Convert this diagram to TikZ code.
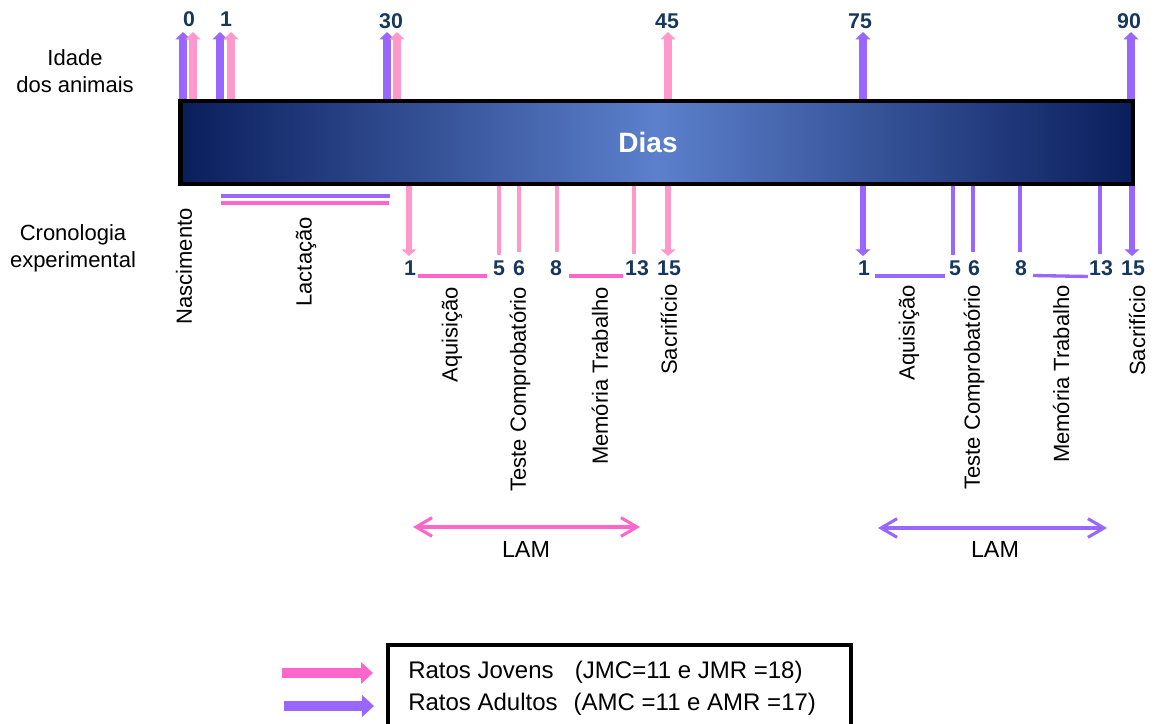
\documentclass[tikz,border=0pt]{standalone}
\usepackage{fontspec}
\setmainfont{Liberation Sans}
\usetikzlibrary{arrows.meta}

\definecolor{adulto}{RGB}{153,102,255}
\definecolor{jovem}{RGB}{255,153,204}
\definecolor{jovemforte}{RGB}{255,102,204}
\definecolor{numazul}{RGB}{23,55,94}
\definecolor{barraescura}{RGB}{10,30,92}
\definecolor{barraclara}{RGB}{92,128,204}

\begin{document}
\begin{tikzpicture}[x=0.75pt,y=0.75pt,yscale=-1,xscale=1,
  seta sobe/.style={line width=6.5pt,-{Triangle[length=5.5pt,width=11pt]}},
  seta desce/.style={line width=5pt,-{Triangle[length=5pt,width=11pt]}},
  marca/.style={line width=2.6pt},
  traco/.style={line width=2.5pt},
  seta lam/.style={line width=2.3pt,{Straight Barb[length=12pt,width=14pt]}-{Straight Barb[length=12pt,width=14pt]}},
  seta legenda/.style={line width=8pt,-{Triangle[length=9pt,width=16pt]}},
  num/.style={text=numazul,font=\fontsize{16}{18}\selectfont\bfseries,inner sep=0pt},
  texto/.style={font=\fontsize{16.5}{20.25}\selectfont,inner sep=0pt},
  vertical/.style={texto,rotate=90,anchor=east},
]
\useasboundingbox (0,0) rectangle (1154,724);

%Up Arrows (idade dos animais)
\draw [seta sobe,adulto] (183,103) -- (183,32) ;
\draw [seta sobe,jovem] (193,103) -- (193,32) ;
\draw [seta sobe,adulto] (220,103) -- (220,32) ;
\draw [seta sobe,jovem] (231,103) -- (231,32) ;
\draw [seta sobe,adulto] (387,103) -- (387,32) ;
\draw [seta sobe,jovem] (397,103) -- (397,32) ;
\draw [seta sobe,jovem] (668,103) -- (668,32) ;
\draw [seta sobe,adulto] (863,103) -- (863,32) ;
\draw [seta sobe,adulto] (1131,103) -- (1131,32) ;

%Down Arrows (jovens)
\draw [seta desce,jovem] (409,182) -- (409,256) ;
\draw [seta desce,jovem] (668,182) -- (668,256) ;
%Down Arrows (adultos)
\draw [seta desce,adulto] (863,182) -- (863,256) ;
\draw [seta desce,adulto] (1132,182) -- (1132,256) ;

%Straight Lines (marcas jovens)
\draw [marca,jovem] (499,184) -- (499,255) ;
\draw [marca,jovem] (519,184) -- (519,252) ;
\draw [marca,jovem] (557,184) -- (557,252) ;
\draw [marca,jovem] (634,184) -- (634,254) ;
%Straight Lines (marcas adultos)
\draw [marca,adulto] (953,184) -- (953,255) ;
\draw [marca,adulto] (973,184) -- (973,252) ;
\draw [marca,adulto] (1020,184) -- (1020,252) ;
\draw [marca,adulto] (1100,184) -- (1100,254) ;

%Shape: Rectangle (barra dos dias)
\node [draw,line width=3.5pt,inner sep=0pt,minimum width=714.4pt,minimum height=62.25pt,
  left color=barraescura,right color=barraescura,middle color=barraclara] (barra) at (656.75,142.5) {};
\node [text=white,font=\fontsize{21}{24}\selectfont\bfseries,inner sep=0pt] (dias) at (648,142) {Dias};

%Straight Lines (lactacao)
\draw [traco,adulto] (221,196) -- (390,196) ;
\draw [traco,jovemforte] (221,203) -- (389,203) ;

%Straight Lines (intervalos)
\draw [traco,jovemforte] (418,276) -- (487,276) ;
\draw [traco,jovemforte] (569,276) -- (623,276) ;
\draw [traco,adulto] (875,276) -- (945,276) ;
\draw [traco,adulto] (1033,275.5) -- (1088,276.5) ;

% Text Node (idades)
\node [num] (i0) at (189,19) {0};
\node [num] (i1) at (226,19) {1};
\node [num] (i30) at (391,21) {30};
\node [num] (i45) at (667,21) {45};
\node [num] (i75) at (860,21) {75};
\node [num] (i90) at (1129,21) {90};

% Text Node (dias jovens)
\node [num] (j1) at (410,268) {1};
\node [num] (j5) at (499,268) {5};
\node [num] (j6) at (519,268) {6};
\node [num] (j8) at (556,268) {8};
\node [num] (j13) at (637,268) {13};
\node [num] (j15) at (669,268) {15};
% Text Node (dias adultos)
\node [num] (a1) at (864,268) {1};
\node [num] (a5) at (955,268) {5};
\node [num] (a6) at (974,268) {6};
\node [num] (a8) at (1021,268) {8};
\node [num] (a13) at (1101,268) {13};
\node [num] (a15) at (1133,268) {15};

% Text Node (legendas laterais)
\node [texto,align=center] (idade) at (75,71) {Idade\\dos animais};
\node [texto,align=center] (crono) at (73,248) {Cronologia\\experimental};

% Text Node (etapas)
\node [vertical] (nasc) at (184,208) {Nascimento};
\node [vertical] (lact) at (306,217) {Lactação};
\node [vertical] (jaq) at (452,287) {Aquisição};
\node [vertical] (jtc) at (520,287) {Teste Comprobatório};
\node [vertical] (jmt) at (600,287) {Memória Trabalho};
\node [vertical] (jsc) at (669,284) {Sacrifício};
\node [vertical] (aaq) at (909,285) {Aquisição};
\node [vertical] (atc) at (974,285) {Teste Comprobatório};
\node [vertical] (amt) at (1061,285) {Memória Trabalho};
\node [vertical] (asc) at (1137,285) {Sacrifício};

%Double Arrows (LAM)
\draw [seta lam,jovemforte] (413,527) -- (640,527) ;
\node [texto,font=\fontsize{17.5}{20}\selectfont] (lamj) at (526,549) {LAM};
\draw [seta lam,adulto] (878,528) -- (1107,528) ;
\node [texto,font=\fontsize{17.5}{20}\selectfont] (lama) at (995,549) {LAM};

%Shape: Rectangle (legenda)
\draw [line width=3pt] (388,728) -- (388,645) -- (851,645) -- (851,728) ;
\draw [seta legenda,jovemforte] (282,673) -- (373,673) ;
\draw [seta legenda,adulto] (284,706) -- (374,706) ;
\node [texto,font=\fontsize{18}{22}\selectfont,anchor=west] (legj) at (408,672) {Ratos Jovens\hspace{16pt}(JMC=11 e JMR =18)};
\node [texto,font=\fontsize{18}{22}\selectfont,anchor=west] (lega) at (408,704) {Ratos Adultos\hspace{12pt}(AMC =11 e AMR =17)};
\end{tikzpicture}
\end{document}
